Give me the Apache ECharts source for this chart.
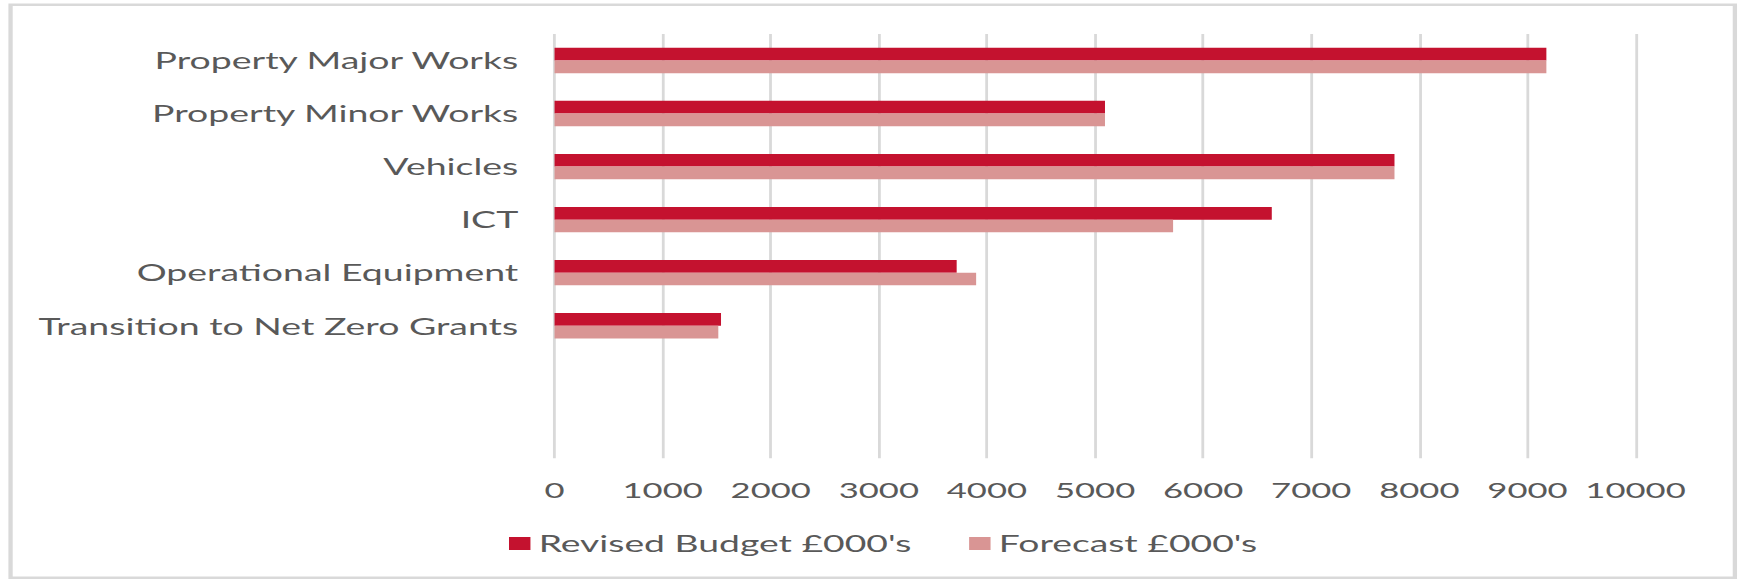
<!DOCTYPE html>
<html>
<head>
<meta charset="utf-8">
<title>Capital Programme</title>
<script src="https://cdn.jsdelivr.net/npm/echarts@6/dist/echarts.min.js"></script>
<style>
  html, body { margin: 0; padding: 0; background: #ffffff; overflow: hidden; }
  #wrap { width: 1739px; height: 580px; overflow: hidden; }
  /* chart is laid out narrow and widened horizontally */
  #chart { width: 1054px; height: 580px; transform: scaleX(1.64991); transform-origin: 0 0; }
</style>
</head>
<body>
<div id="wrap"><div id="chart"></div></div>
<script>
// Capital budget lines (two trailing empty slots keep the spacing below the last line)
const categories = [
  'Property Major Works',
  'Property Minor Works',
  'Vehicles',
  'ICT',
  'Operational Equipment',
  'Transition to Net Zero Grants',
  '',
  ''
];
const revisedBudget = [9175, 5092, 7770, 6635, 3720, 1540, null, null];
const forecast      = [9175, 5092, 7770, 5722, 3900, 1515, null, null];
const xTicks = { min: 0, max: 10000, interval: 1000 };
const seriesNames = ["Revised Budget £000's", "Forecast £000's"];

const textColor = '#595959';
const font = 'Lato, "Open Sans", sans-serif';

const chart = echarts.init(document.getElementById('chart'), null, { renderer: 'svg' });
chart.setOption({
  animation: false,
  backgroundColor: '#ffffff',
  color: ['#C4122F', '#D99594'],
  graphic: [{
    type: 'rect',
    shape: { x: 6.4, y: 4.7, width: 1045.1, height: 573 },
    style: { fill: 'none', stroke: '#d9d9d9', lineWidth: 2.6 },
    silent: true
  }],
  legend: {
    data: seriesNames,
    left: 303.5,
    top: 527,
    icon: 'rect',
    itemWidth: 13,
    itemHeight: 13,
    itemGap: 35,
    textStyle: { color: textColor, fontFamily: font, fontSize: 22.6 }
  },
  grid: { left: 336.1, top: 34, width: 655.2, height: 424.3, containLabel: false },
  xAxis: {
    type: 'value',
    min: xTicks.min,
    max: xTicks.max,
    interval: xTicks.interval,
    axisLine: { show: false },
    axisTick: { show: false },
    axisLabel: {
      color: textColor, fontFamily: font, fontSize: 21, margin: 21,
      formatter: (v) => String(v)
    },
    splitLine: { show: true, lineStyle: { color: '#d9d9d9', width: 1.7 } }
  },
  yAxis: {
    type: 'category',
    data: categories,
    inverse: true,
    axisLine: { show: false },
    axisTick: { show: false },
    axisLabel: { color: textColor, fontFamily: font, fontSize: 22.7, margin: 22 }
  },
  series: [
    {
      name: seriesNames[0], type: 'bar', data: revisedBudget,
      barWidth: 12.7, barGap: '0%'
    },
    {
      name: seriesNames[1], type: 'bar', data: forecast,
      barWidth: 12.7, barGap: '0%'
    }
  ]
});
</script>
</body>
</html>
